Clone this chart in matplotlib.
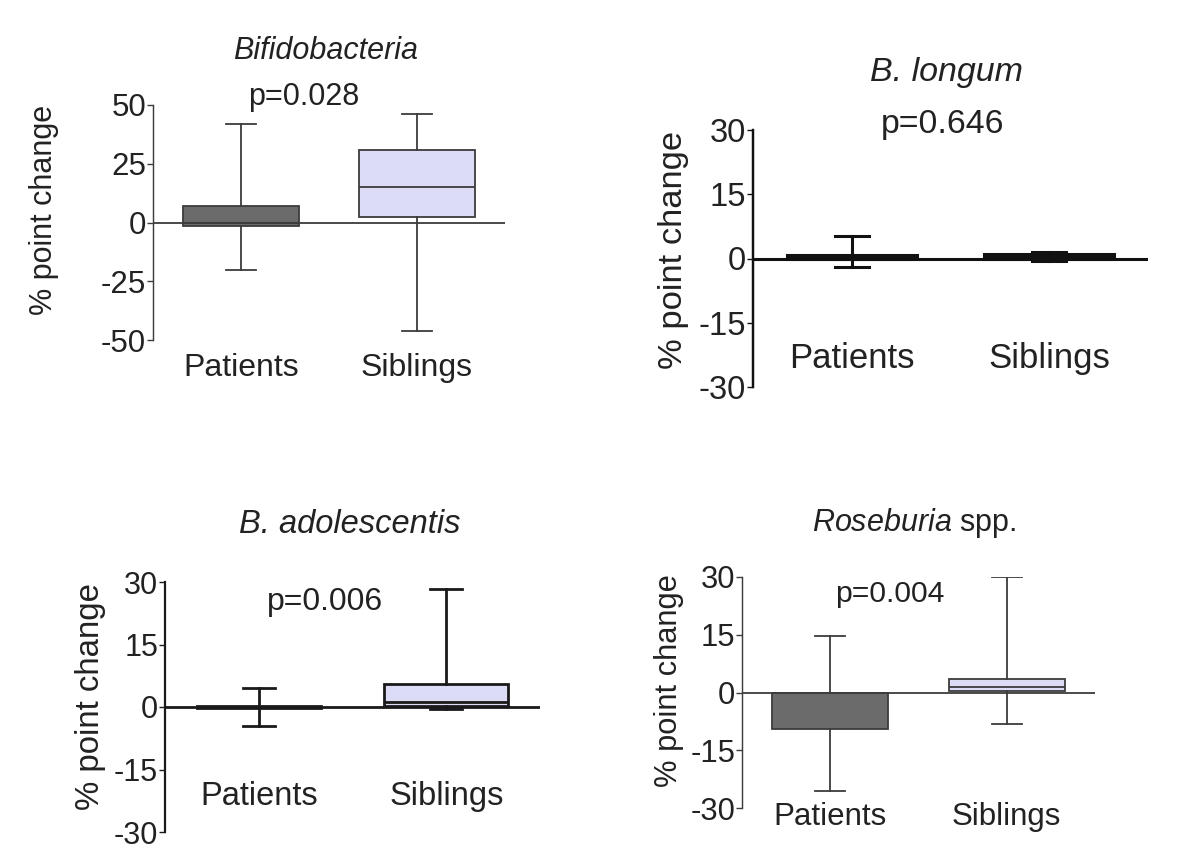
import matplotlib
matplotlib.use("Agg")
import matplotlib.pyplot as plt
from matplotlib.transforms import blended_transform_factory

plt.rcParams['font.family'] = ['Liberation Sans', 'DejaVu Sans']
plt.rcParams['mathtext.fontset'] = 'custom'
plt.rcParams['mathtext.rm'] = 'Liberation Sans'
plt.rcParams['mathtext.it'] = 'Liberation Sans:italic'

# --- Data (box summaries) ---
groups = ["Patients", "Siblings"]
titles = ["Bifidobacteria", "B. longum", "B. adolescentis", "Roseburia spp."]
pvals = ["p=0.028", "p=0.646", "p=0.006", "p=0.004"]
yticks = [[-50, -25, 0, 25, 50], [-30, -15, 0, 15, 30],
          [-30, -15, 0, 15, 30], [-30, -15, 0, 15, 30]]

# per panel: [patients, siblings] as (whislo, q1, med, q3, whishi)
bifido = [(-20, -1.5, 0, 7, 42), (-46, 2.5, 15, 31, 46)]
longum = [(-1.9, 0, 0.3, 0.8, 5.3), (-0.6, 0, 0.5, 1.0, 1.5)]
adolesc = [(-4.6, -0.2, 0, 0.2, 4.6), (-0.5, 0.2, 1.2, 5.5, 28.3)]
roseb = [(-25.5, -9.4, 0, 0, 14.8), (-8.3, 0.3, 1.5, 3.6, 30)]
panels = [bifido, longum, adolesc, roseb]

fill_colors = ["#6b6b6b", "#dcdcf6"]

W, H = 1204, 857
fig = plt.figure(figsize=(W / 100, H / 100), dpi=100)

# layout in pixels: y-axis x, zero-line end x, top px, bottom px
layout = [(153, 505, 105, 340), (753, 1148, 130, 387),
          (165, 540, 582, 832), (742, 1095, 577, 808)]
line_w = [1.3, 2.2, 2.0, 1.3]
line_c = ["#3c3c3c", "#111111", "#1a1a1a", "#3c3c3c"]
fs_tick = [22.5, 23.5, 22, 22.3]
fs_group = [23, 25, 23.5, 22.5]
fs_lab = [22, 24.8, 23.8, 22.2]
fs_title = [22, 24.5, 23.5, 22]
fs_p = [22, 24.4, 23, 21.7]
ylab_pos = [(44, 210), (674, 250), (91, 697), (669, 681)]
title_pos = [(326, 59), (947, 81), (350, 533), (914, 531)]
p_pos = [(304, 105), (943, 133), (325, 610), (890, 602)]
xlab_base = [376, 368, 805, 825]

for i, stats in enumerate(panels):
    x0, x1, top, bot = layout[i]
    ax = fig.add_axes([x0 / W, 1 - bot / H, (x1 - x0) / W, (bot - top) / H])
    ax.patch.set_alpha(0)
    lw, lc = line_w[i], line_c[i]

    bxp_stats = []
    for g, (lo, q1, med, q3, hi) in zip(groups, stats):
        bxp_stats.append(dict(label=g, whislo=lo, q1=q1, med=med, q3=q3,
                              whishi=hi, fliers=[]))
    bp = ax.bxp(bxp_stats, positions=[1, 2], widths=0.66, patch_artist=True,
                showfliers=False, capwidths=0.17,
                boxprops=dict(linewidth=lw, edgecolor=lc),
                whiskerprops=dict(linewidth=lw, color=lc),
                capprops=dict(linewidth=lw, color=lc),
                medianprops=dict(linewidth=lw, color=lc))
    for patch, fc in zip(bp['boxes'], fill_colors):
        patch.set_facecolor(fc)

    ax.axhline(0, color=lc, linewidth=lw, zorder=4)
    ax.set_xlim(0.5, 2.5)
    yt = yticks[i]
    ax.set_ylim(yt[0], yt[-1])
    ax.set_yticks(yt)
    ax.set_yticklabels([str(t) for t in yt], fontsize=fs_tick[i])
    ax.tick_params(axis='y', direction='out', length=4, width=1, pad=1, colors=lc,
                   labelcolor="#222222")
    ax.set_xticks([])
    for s in ['top', 'right', 'bottom']:
        ax.spines[s].set_visible(False)
    ax.spines['left'].set_linewidth(lw * 0.8)
    ax.spines['left'].set_color(lc)

    # group labels under the boxes
    tr = blended_transform_factory(ax.transData, fig.transFigure)
    for xpos, g in zip([1, 2], groups):
        ax.text(xpos, 1 - xlab_base[i] / H, g, transform=tr, ha='center',
                va='baseline', fontsize=fs_group[i], color="#222222", clip_on=False)

    fig.text(ylab_pos[i][0] / W, 1 - ylab_pos[i][1] / H, "% point change",
             rotation=90, ha='center', va='center', fontsize=fs_lab[i], color="#222222")
    fig.text(p_pos[i][0] / W, 1 - p_pos[i][1] / H, pvals[i], ha='center',
             va='baseline', fontsize=fs_p[i], color="#222222")

    tx, ty = title_pos[i]
    if titles[i] == "Roseburia spp.":
        fig.text(tx / W, 1 - ty / H, r"$\it{Roseburia}$ spp.", ha='center',
                 va='baseline', fontsize=fs_title[i], color="#222222")
    else:
        fig.text(tx / W, 1 - ty / H, titles[i], ha='center', va='baseline',
                 fontsize=fs_title[i], style='italic', color="#222222")

fig.savefig("out.png", dpi=100, facecolor="white")
